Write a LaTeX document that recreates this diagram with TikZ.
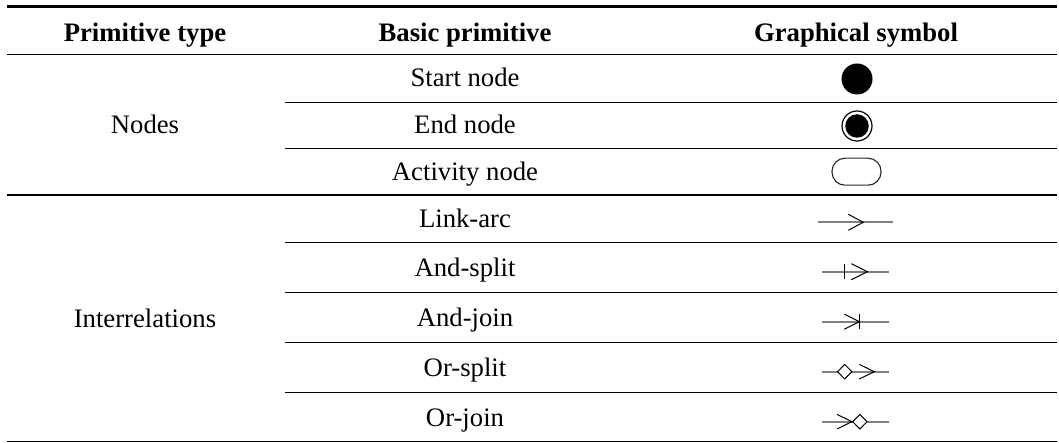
\documentclass[tikz,border=0pt]{standalone}
\usepackage{fontspec}
\setmainfont{Liberation Serif}
\usetikzlibrary{shapes.geometric}
\begin{document}
\begin{tikzpicture}[x=1pt,y=-1pt,
  rule/.style={line width=1.3pt},
  toprule/.style={line width=3.3pt},
  txt/.style={anchor=base, inner sep=0pt, font=\fontsize{26.7}{30}\selectfont},
  hd/.style={anchor=base, inner sep=0pt, font=\fontsize{26.7}{30}\selectfont\bfseries},
  flow/.style={draw=black!50, line width=2pt},
  chev/.style={line width=1pt, line join=miter},
  dia/.style={draw, fill=white, line width=1pt, diamond, inner sep=0pt, minimum width=14.7pt, minimum height=15pt},
  sym/.style={inner sep=0pt, outer sep=0pt}]
\useasboundingbox (0,0) rectangle (1059,443);
% rules
\draw[toprule] (7,6.7) -- (1057,6.7);
\draw[rule] (7,54.5) -- (1057,54.5);
\draw[rule] (285,102.3) -- (1057,102.3);
\draw[rule] (285,148.3) -- (1057,148.3);
\draw[rule] (7,195) -- (1057,195);
\draw[rule] (285,242.3) -- (1057,242.3);
\draw[rule] (285,292.5) -- (1057,292.5);
\draw[rule] (285,342.3) -- (1057,342.3);
\draw[rule] (285,392.3) -- (1057,392.3);
\draw[rule] (7,441.7) -- (1057,441.7);
% headers
\node[hd] (h1) at (145,41.7) {Primitive type};
\node[hd] (h2) at (465,41.7) {Basic primitive};
\node[hd] (h3) at (856,41.7) {Graphical symbol};
% column 1
\node[txt] (nodes) at (145,134) {Nodes};
\node[txt] (inter) at (145,327) {Interrelations};
% column 2
\node[txt] (b1) at (465,87) {Start node};
\node[txt] (b2) at (465,133.5) {End node};
\node[txt] (b3) at (465,180.3) {Activity node};
\node[txt] (b4) at (465,227.5) {Link-arc};
\node[txt] (b5) at (465,276.5) {And-split};
\node[txt] (b6) at (465,326.5) {And-join};
\node[txt] (b7) at (465,376.5) {Or-split};
\node[txt] (b8) at (465,426.5) {Or-join};
% symbols
\node[sym, circle, fill=black, minimum size=31pt] (startsym) at (857,79) {};
\node[sym, circle, draw, line width=1.2pt, minimum size=30pt] (endsym) at (857,126) {};
\node[sym, circle, fill=black, minimum size=23.5pt] (endin) at (endsym) {};
\node[sym, draw=black!85, line width=1.1pt, rounded corners=13pt, minimum width=49pt, minimum height=27pt] (act) at (856.5,171.7) {};
% link-arc
\coordinate (la1) at (818.3,222.3); \coordinate (la2) at (892.7,222.3);
\coordinate (lat) at (863.3,222.3);
\draw[flow] (la1) -- (la2);
\draw[chev] ([shift={(-15,-8)}]lat) -- (lat) -- ([shift={(-15,8)}]lat);
% and-split
\coordinate (as1) at (822.3,271.7); \coordinate (as2) at (889,271.7);
\coordinate (ast) at (867.3,271.7); \coordinate (asb) at (844.3,271.7);
\draw[flow] (as1) -- (as2);
\draw[chev] ([shift={(0,-7.7)}]asb) -- ([shift={(0,7.7)}]asb);
\draw[chev] ([shift={(-16,-8)}]ast) -- (ast) -- ([shift={(-16,8)}]ast);
% and-join
\coordinate (aj1) at (822.3,321.7); \coordinate (aj2) at (889,321.7);
\coordinate (ajt) at (859.3,321.7);
\draw[flow] (aj1) -- (aj2);
\draw[chev] ([shift={(-15,-7.5)}]ajt) -- (ajt) -- ([shift={(-15,7.5)}]ajt);
\draw[chev] ([shift={(0,-7.7)}]ajt) -- ([shift={(0,7.7)}]ajt);
% or-split
\coordinate (os1) at (822.3,371.7); \coordinate (os2) at (889,371.7);
\coordinate (ost) at (874.3,371.7);
\draw[flow] (os1) -- (os2);
\node[dia] (osd) at (844.7,371.7) {};
\draw[chev] ([shift={(-15,-7.3)}]ost) -- (ost) -- ([shift={(-15,7.3)}]ost);
% or-join
\coordinate (oj1) at (822.3,421.7); \coordinate (oj2) at (889,421.7);
\coordinate (ojt) at (852,421.7);
\draw[flow] (oj1) -- (oj2);
\draw[chev] ([shift={(-15,-7.3)}]ojt) -- (ojt) -- ([shift={(-15,7.3)}]ojt);
\node[dia, anchor=west] (ojd) at (ojt) {};
\end{tikzpicture}
\end{document}
